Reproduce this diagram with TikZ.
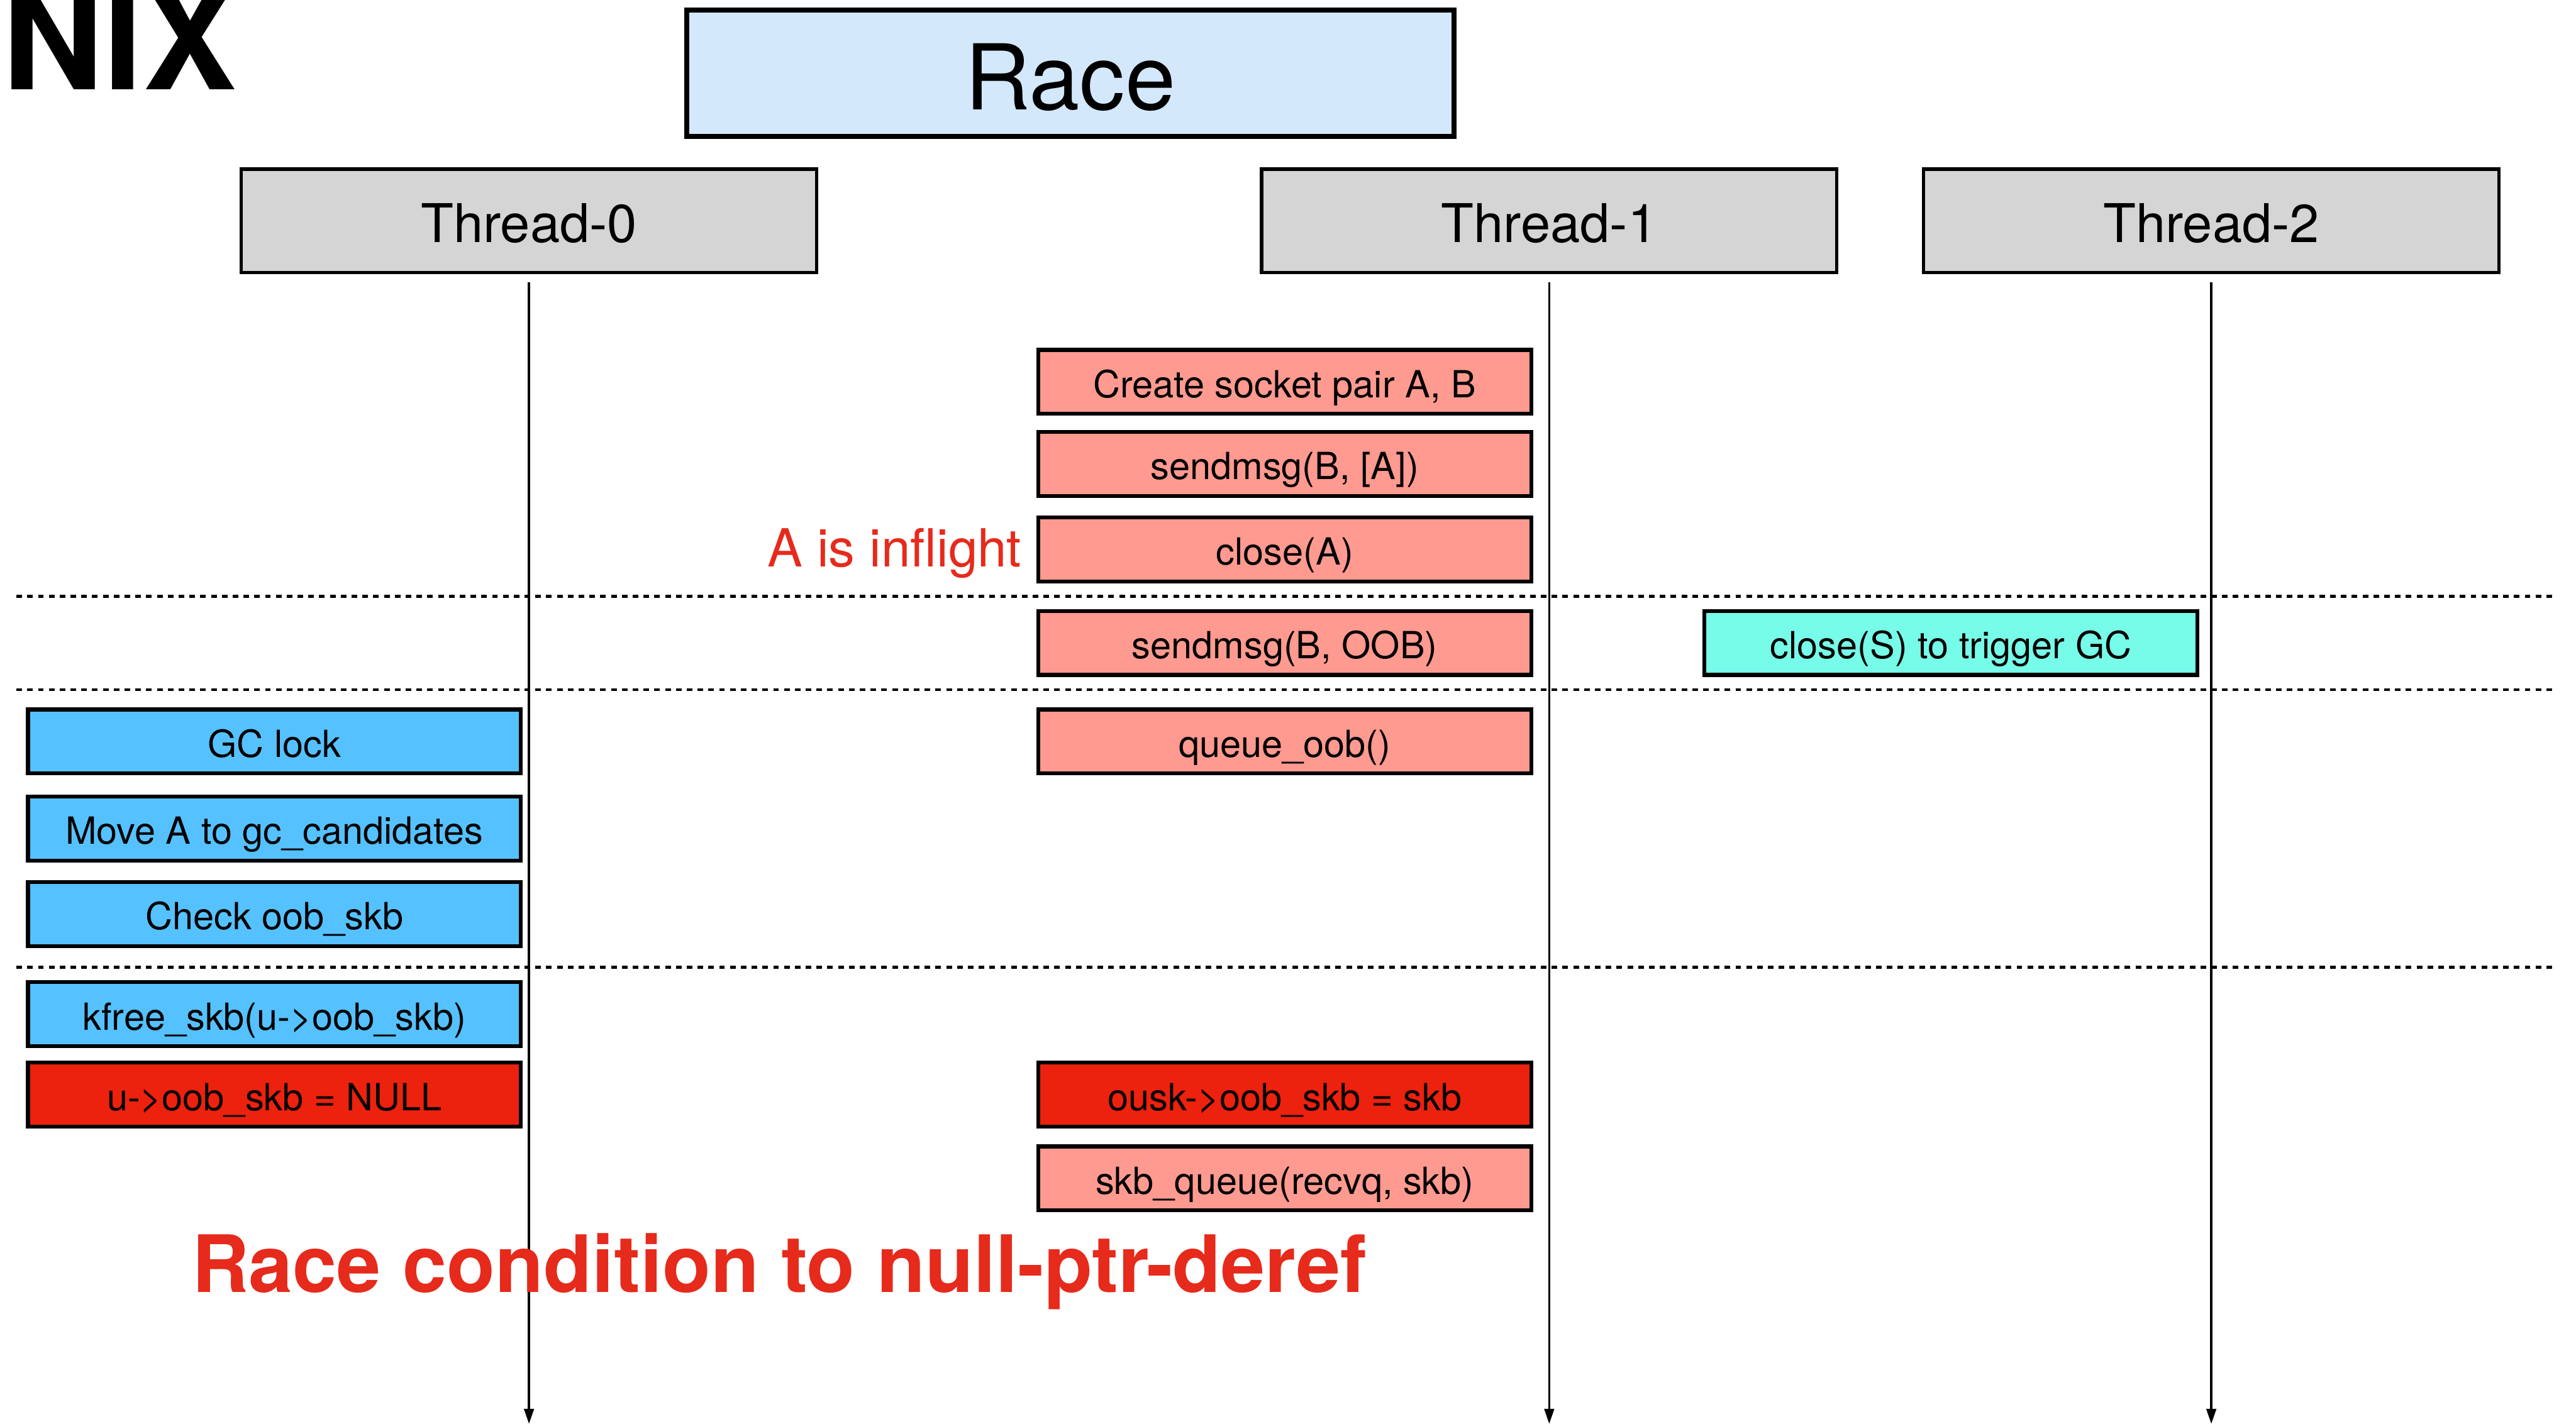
\documentclass[tikz,border=0pt]{standalone}
\usepackage{fontspec}
\setmainfont{TeX Gyre Heros}
\usetikzlibrary{arrows.meta}
\definecolor{racefill}{HTML}{D4E8FC}
\definecolor{threadfill}{HTML}{D5D5D5}
\definecolor{salmon}{HTML}{FF9A90}
\definecolor{hotred}{HTML}{EC210E}
\definecolor{skyblue}{HTML}{56C1FF}
\definecolor{aqua}{HTML}{76FCE8}
\definecolor{alertred}{HTML}{E62A1B}
\tikzset{
  x=0.02671cm, y=-0.02671cm,
  racebox/.style={draw, line width=2.3pt, fill=racefill, inner sep=0pt,
    minimum width=12.47cm, minimum height=2.057cm,
    font=\fontsize{42}{48}\selectfont, text height=34pt, text depth=0pt},
  threadbox/.style={draw, line width=1.5pt, fill=threadfill, inner sep=0pt,
    minimum width=9.35cm, minimum height=1.683cm,
    font=\fontsize{24.7}{28}\selectfont, text height=20pt, text depth=0pt},
  stepbox/.style={draw, line width=1.8pt, inner sep=0pt,
    minimum width=8.01cm, minimum height=1.04cm,
    font=\fontsize{17.3}{20}\selectfont, text height=14.5pt, text depth=0pt},
  t0box/.style={stepbox, fill=skyblue},
  t1box/.style={stepbox, fill=salmon},
  t2box/.style={stepbox, fill=aqua},
  hotbox/.style={stepbox, fill=hotred},
  lifeline/.style={line width=1pt, -{Triangle[length=7pt, width=4.5pt]}},
  phase/.style={line width=1.3pt, dash pattern=on 2.6pt off 2.4pt},
}
\begin{document}
\begin{tikzpicture}
\useasboundingbox (0,0) rectangle (1568,867);

% heading fragment at the top-left corner
\node[anchor=base west, inner sep=0pt, font=\fontsize{65}{72}\selectfont\bfseries]
  (title) at (1.1,54.7) {NIX};

% title and thread headers
\node[racebox] (race) at (651.5,44.5) {Race};
\node[threadbox] (t0) at (322,134.5) {Thread-0};
\node[threadbox] (t1) at (943,134.5) {Thread-1};
\node[threadbox] (t2) at (1346,134.5) {Thread-2};

% lifelines
\coordinate (s0) at (322,172);
\coordinate (s1) at (943,172);
\coordinate (s2) at (1346,172);
\coordinate (e0) at (322,867);
\coordinate (e1) at (943,867);
\coordinate (e2) at (1346,867);
\draw[lifeline] (s0) -- (e0);
\draw[lifeline] (s1) -- (e1);
\draw[lifeline] (s2) -- (e2);

% phase separators
\coordinate (d1a) at (10,363);  \coordinate (d1b) at (1556,363);
\coordinate (d2a) at (10,420);  \coordinate (d2b) at (1556,420);
\coordinate (d3a) at (10,589);  \coordinate (d3b) at (1556,589);
\draw[phase] (d1a) -- (d1b);
\draw[phase] (d2a) -- (d2b);
\draw[phase] (d3a) -- (d3b);

% Thread-1 steps
\node[t1box] (create) at (782,232.5) {Create socket pair A, B};
\node[t1box] (sendA)  at (782,282.5) {sendmsg(B, [A])};
\node[t1box] (closeA) at (782,334.5) {close(A)};
\node[t1box] (sendOOB) at (782,391.5) {sendmsg(B, OOB)};
\node[t1box] (queue)  at (782,451.5) {queue\_oob()};
\node[hotbox] (ousk)  at (782,666.5) {ousk->oob\_skb = skb};
\node[t1box] (skbq)   at (782,717.5) {skb\_queue(recvq, skb)};

% Thread-2 step
\node[t2box] (closeS) at (1187.5,391.5) {close(S) to trigger GC};

% Thread-0 steps
\node[t0box] (gclock) at (167,451.5) {GC lock};
\node[t0box] (move)   at (167,504.5) {Move A to gc\_candidates};
\node[t0box] (check)  at (167,556.5) {Check oob\_skb};
\node[t0box] (kfree)  at (167,617.5) {kfree\_skb(u->oob\_skb)};
\node[hotbox] (unull) at (167,666.5) {u->oob\_skb = NULL};

% annotations
\node[anchor=base east, inner sep=0pt, text=alertred, font=\fontsize{24.3}{28}\selectfont]
  (inflight) at (622,345) {A is inflight};
\node[anchor=base west, inner sep=0pt, text=alertred, font=\fontsize{36.6}{42}\selectfont\bfseries]
  (verdict) at (116.5,787) {Race condition to null-ptr-deref};
\end{tikzpicture}
\end{document}
